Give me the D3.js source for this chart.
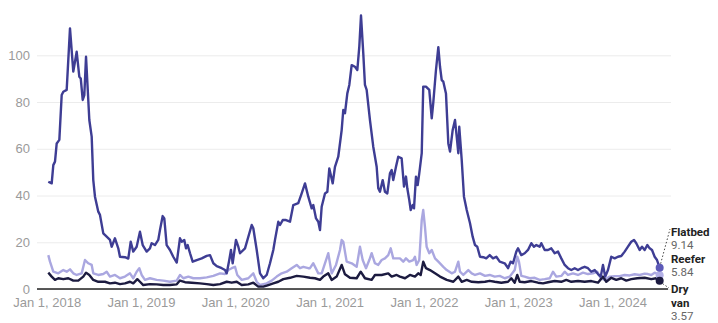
<!DOCTYPE html>
<html>
<head>
<meta charset="utf-8">
<script src="https://cdn.jsdelivr.net/npm/d3@7"></script>
<style>
  html, body { margin: 0; padding: 0; background: #fff; }
  svg { display: block; font-family: Roboto, "Noto Sans", sans-serif; }
  .tick text { fill: #9a9a9a; font-size: 13px; }
</style>
</head>
<body>
<div id="chart"></div>
<script>
// decimal year, value
const flatbed = [[2018.017,45.9],[2018.053,45.2],[2018.070,53],[2018.088,54.5],[2018.106,62.3],[2018.134,63.8],[2018.159,83],[2018.176,84.4],[2018.212,85.2],[2018.247,111.5],[2018.282,93],[2018.318,101.5],[2018.346,90.8],[2018.361,90.1],[2018.382,80.9],[2018.399,83],[2018.417,99.4],[2018.452,72.3],[2018.477,65.2],[2018.494,46.6],[2018.512,39.5],[2018.547,33.1],[2018.565,31.7],[2018.600,23.8],[2018.636,22.4],[2018.671,21],[2018.689,18.1],[2018.724,21.7],[2018.759,17.4],[2018.777,13.8],[2018.830,13.6],[2018.865,13],[2018.891,20.2],[2018.918,16],[2018.954,18.1],[2018.989,24.5],[2019.018,18.8],[2019.060,16],[2019.095,17.4],[2019.113,19.6],[2019.148,18.8],[2019.183,21],[2019.201,25.2],[2019.230,31.2],[2019.247,30.2],[2019.272,18.8],[2019.307,16.7],[2019.342,13.8],[2019.379,11.3],[2019.413,21.7],[2019.432,20.2],[2019.459,21],[2019.477,17.4],[2019.495,18.8],[2019.520,15.3],[2019.548,11.7],[2019.591,12.4],[2019.644,13.1],[2019.697,14.2],[2019.732,14.5],[2019.767,11],[2019.803,9.8],[2019.856,8.9],[2019.891,8.1],[2019.909,6.7],[2019.936,12.4],[2019.954,16.7],[2019.972,11],[2020.007,21],[2020.032,18.1],[2020.050,15.3],[2020.103,17.4],[2020.174,27.4],[2020.191,26],[2020.227,16.7],[2020.262,6.7],[2020.297,4.6],[2020.333,6],[2020.368,11],[2020.403,16.7],[2020.421,21],[2020.456,28.8],[2020.474,27.4],[2020.503,29.5],[2020.538,29.5],[2020.580,28.8],[2020.615,35.9],[2020.668,36.7],[2020.704,40.9],[2020.739,45.2],[2020.774,39.5],[2020.810,34.5],[2020.827,35.9],[2020.856,30.2],[2020.880,28.8],[2020.898,25.2],[2020.916,35.2],[2020.951,40.9],[2020.976,41.6],[2020.997,51.6],[2021.033,45.2],[2021.057,52.3],[2021.092,56.6],[2021.128,68],[2021.145,76.6],[2021.163,75.2],[2021.188,83.7],[2021.209,87.3],[2021.234,95.8],[2021.269,95.1],[2021.294,93.7],[2021.315,103.7],[2021.333,117],[2021.357,100.9],[2021.375,87.3],[2021.393,85.2],[2021.428,72.3],[2021.463,60.9],[2021.499,52.3],[2021.516,43.1],[2021.534,41.6],[2021.563,46.6],[2021.587,41.6],[2021.612,40.9],[2021.640,49.5],[2021.658,50.9],[2021.675,46.6],[2021.704,52.3],[2021.728,56.6],[2021.764,55.9],[2021.789,43.8],[2021.810,48.1],[2021.824,43.1],[2021.845,38.1],[2021.860,33.8],[2021.881,35.9],[2021.895,34.5],[2021.916,48.1],[2021.934,44.5],[2021.951,49.5],[2021.977,58.1],[2021.993,86.6],[2022.022,86.6],[2022.057,85.2],[2022.083,73],[2022.099,79.5],[2022.128,93.7],[2022.153,103.5],[2022.171,95.1],[2022.189,89.4],[2022.206,88.7],[2022.234,83.7],[2022.259,62.3],[2022.277,58.8],[2022.305,68],[2022.330,72.3],[2022.348,65.2],[2022.365,58.1],[2022.375,69.4],[2022.401,55.2],[2022.425,39.5],[2022.454,33.8],[2022.489,28.1],[2022.517,22.4],[2022.542,18.8],[2022.566,18.1],[2022.595,13.8],[2022.630,13.6],[2022.661,13.1],[2022.698,14.5],[2022.733,13.1],[2022.768,13.8],[2022.804,11.7],[2022.857,11],[2022.892,8.9],[2022.920,11.7],[2022.945,11],[2022.980,16],[2022.998,17.4],[2023.033,14.5],[2023.069,15.3],[2023.104,16.7],[2023.139,19.6],[2023.167,18.1],[2023.192,18.8],[2023.228,18.1],[2023.245,19.6],[2023.281,16.7],[2023.316,16.7],[2023.351,17.4],[2023.387,15.3],[2023.422,16],[2023.457,13.1],[2023.493,10.3],[2023.528,8.9],[2023.563,8.1],[2023.599,8.9],[2023.634,8.1],[2023.669,8.9],[2023.705,9.5],[2023.740,8.9],[2023.775,7.4],[2023.811,8.1],[2023.846,6.4],[2023.875,5.3],[2023.899,10.3],[2023.923,5.3],[2023.952,8.1],[2023.987,13.8],[2024.023,13.1],[2024.058,13.8],[2024.093,14.1],[2024.129,16],[2024.164,18.1],[2024.199,20.2],[2024.228,21],[2024.252,19.6],[2024.288,16.7],[2024.313,18.1],[2024.341,16.7],[2024.369,18.8],[2024.394,17.4],[2024.419,16.7],[2024.447,13.8],[2024.472,12.4],[2024.500,9.14]];

const reefer = [[2018.017,14.5],[2018.035,11.7],[2018.070,7.4],[2018.123,6.7],[2018.176,8.1],[2018.212,7.4],[2018.247,8.4],[2018.282,6.7],[2018.318,6],[2018.371,6.7],[2018.406,12.4],[2018.441,11],[2018.477,10.3],[2018.494,6.7],[2018.547,6],[2018.600,6.4],[2018.636,7.4],[2018.671,5.3],[2018.724,6],[2018.777,4.6],[2018.830,5.3],[2018.883,6.7],[2018.918,4.6],[2018.954,7.4],[2018.982,8.9],[2019.007,6],[2019.042,3.9],[2019.095,4.6],[2019.166,3.9],[2019.236,3.6],[2019.307,3.1],[2019.379,3.6],[2019.413,6],[2019.449,4.6],[2019.502,5.3],[2019.555,4.6],[2019.626,4.6],[2019.697,5],[2019.767,5.6],[2019.838,6.7],[2019.891,6.4],[2019.926,8.1],[2019.962,8.9],[2019.997,9.5],[2020.021,6],[2020.068,3.9],[2020.138,4.6],[2020.191,6.7],[2020.227,3.1],[2020.262,1.7],[2020.333,2.4],[2020.386,3.6],[2020.439,5.3],[2020.492,6.7],[2020.545,7.4],[2020.598,8.9],[2020.651,10.3],[2020.686,8.9],[2020.721,9.5],[2020.774,8.9],[2020.792,8.9],[2020.827,11],[2020.880,6.7],[2020.916,6.7],[2020.986,15.3],[2021.022,6.7],[2021.068,10.3],[2021.110,16.7],[2021.128,21],[2021.145,20.2],[2021.181,11.7],[2021.234,11],[2021.287,9.5],[2021.322,18.1],[2021.351,12.4],[2021.386,8.9],[2021.421,12.4],[2021.446,15.3],[2021.481,11],[2021.516,10.3],[2021.552,12.4],[2021.587,13.1],[2021.622,14.5],[2021.648,17.4],[2021.675,13.1],[2021.718,13.1],[2021.746,13.1],[2021.781,11.7],[2021.810,13.1],[2021.845,11.7],[2021.887,12.4],[2021.905,13.8],[2021.923,10.3],[2021.951,12.4],[2021.977,29.5],[2021.993,33.8],[2022.011,26.7],[2022.029,18.1],[2022.057,15.3],[2022.083,16.7],[2022.118,13.1],[2022.153,11.7],[2022.206,9.5],[2022.242,8.1],[2022.295,6.7],[2022.330,7.4],[2022.365,11.7],[2022.383,7.4],[2022.418,6],[2022.471,8.1],[2022.507,6.7],[2022.542,6],[2022.595,6.7],[2022.648,5.6],[2022.698,6],[2022.751,5.3],[2022.804,5.6],[2022.857,4.6],[2022.910,5.3],[2022.963,8.1],[2022.990,13.8],[2023.008,11.7],[2023.033,5.6],[2023.069,5.3],[2023.122,4.6],[2023.175,4.8],[2023.228,3.9],[2023.281,4.2],[2023.334,4.6],[2023.369,7.4],[2023.404,5.3],[2023.457,5.6],[2023.493,7.4],[2023.528,6],[2023.581,6.7],[2023.634,6],[2023.687,7],[2023.740,6.4],[2023.793,6.7],[2023.839,7.4],[2023.875,4.6],[2023.917,3.9],[2023.970,5.3],[2024.023,5.5],[2024.076,5.5],[2024.129,6],[2024.182,5.8],[2024.235,6.3],[2024.288,6],[2024.341,6.6],[2024.376,6.4],[2024.411,6],[2024.447,7],[2024.482,6.4],[2024.500,5.84]];

const dryVan = [[2018.017,7],[2018.053,5.3],[2018.088,3.9],[2018.123,4.6],[2018.176,4.2],[2018.229,4.6],[2018.282,3.6],[2018.335,3.6],[2018.388,5.3],[2018.417,7],[2018.452,6],[2018.494,3.9],[2018.547,3.1],[2018.618,3.1],[2018.671,2.4],[2018.724,2.7],[2018.777,2.1],[2018.830,2.4],[2018.883,3.1],[2018.918,2.4],[2018.961,4.2],[2018.989,3.1],[2019.024,1.7],[2019.095,2.1],[2019.166,2],[2019.236,1.7],[2019.307,1.7],[2019.379,2],[2019.413,3.6],[2019.467,2.9],[2019.538,2.7],[2019.626,2.4],[2019.697,2.1],[2019.767,1.7],[2019.838,2.1],[2019.909,3.1],[2019.962,2.7],[2020.015,3.1],[2020.068,1.7],[2020.138,2],[2020.191,2.7],[2020.244,1],[2020.297,1],[2020.350,1.7],[2020.403,2.4],[2020.456,3.1],[2020.509,4.2],[2020.580,4.8],[2020.651,5.6],[2020.721,5.3],[2020.792,4.8],[2020.845,4.6],[2020.898,3.9],[2020.933,5.3],[2020.986,6.7],[2021.022,3.9],[2021.075,5.3],[2021.128,10.3],[2021.163,6.3],[2021.216,4.8],[2021.287,4.6],[2021.330,7.4],[2021.375,4.6],[2021.446,3.9],[2021.481,6],[2021.552,6],[2021.622,6.7],[2021.658,5.3],[2021.711,6],[2021.746,5.3],[2021.800,4.6],[2021.852,6],[2021.905,5.3],[2021.940,6.7],[2021.966,6],[2021.993,11.7],[2022.022,8.9],[2022.064,8.1],[2022.118,6.7],[2022.171,5.3],[2022.242,3.9],[2022.312,3.1],[2022.365,5.3],[2022.401,3.1],[2022.454,3.9],[2022.507,3.1],[2022.577,2.9],[2022.648,3.1],[2022.698,3.5],[2022.751,3.1],[2022.821,2.7],[2022.892,3.1],[2022.927,4.6],[2022.963,2.7],[2022.990,6],[2023.016,3.1],[2023.069,2.9],[2023.139,3.4],[2023.210,2.7],[2023.263,2.4],[2023.316,2.9],[2023.387,3.4],[2023.457,3.1],[2023.510,3.9],[2023.563,3.1],[2023.634,3.4],[2023.705,3.1],[2023.775,3.4],[2023.846,2.7],[2023.899,5.3],[2023.934,3.1],[2023.987,4.8],[2024.040,3.9],[2024.093,4.6],[2024.146,3.6],[2024.199,4.2],[2024.263,4.6],[2024.341,4.8],[2024.411,4.2],[2024.464,4.6],[2024.500,3.57]];

const seriesNames = ['Reefer', 'Dry van', 'Flatbed'];
const seriesColors = ['#aaa7e0', '#1c1b40', '#3e3d94'];
const dotColors = ['#b3b0e6', '#1c1b40', '#5d5ab8'];
const yTicks = [0, 20, 40, 60, 80, 100];
const xTicks = [2018, 2019, 2020, 2021, 2022, 2023, 2024];

const width = 718, height = 323;
const left = 37, right = 671;

const svg = d3.select('#chart').append('svg')
    .attr('width', width)
    .attr('height', height);

const x = d3.scaleLinear().domain([2018, 2024]).range([46.7, 612.5]);
const y = d3.scaleLinear().domain([0, 100]).range([289, 55.3]);

// gridlines + y labels
const yAxis = svg.append('g')
    .attr('transform', `translate(${left},0)`)
    .call(d3.axisLeft(y).tickValues(yTicks).tickSize(-(right - left)).tickPadding(7));
yAxis.select('.domain').remove();
yAxis.selectAll('.tick line').attr('stroke', '#ececec');
yAxis.selectAll('.tick text').attr('fill', '#9a9a9a');

// x labels
const xAxis = svg.append('g')
    .attr('transform', `translate(0,${y(0)})`)
    .call(d3.axisBottom(x).tickValues(xTicks).tickSize(0).tickPadding(9)
        .tickFormat(d => `Jan 1, ${d}`));
xAxis.select('.domain').remove();

// baseline
svg.append('line')
    .attr('x1', left).attr('x2', 668)
    .attr('y1', y(0)).attr('y2', y(0))
    .attr('stroke', '#222').attr('stroke-width', 1.5);

const line = d3.line().x(d => x(d[0])).y(d => y(d[1]));
const allSeries = [reefer, dryVan, flatbed];

svg.append('g').selectAll('path')
    .data(allSeries)
    .join('path')
    .attr('d', line)
    .attr('fill', 'none')
    .attr('stroke', (d, i) => seriesColors[i])
    .attr('stroke-width', 2.4)
    .attr('stroke-linejoin', 'round');

const ends = allSeries.map(s => s[s.length - 1]);

svg.append('g').selectAll('circle')
    .data(ends)
    .join('circle')
    .attr('cx', d => x(d[0]))
    .attr('cy', d => y(d[1]))
    .attr('r', 4)
    .attr('fill', (d, i) => dotColors[i]);

// leader lines
const fEnd = ends[2], dEnd = ends[1];
svg.append('line')
    .attr('x1', x(fEnd[0]) + 1).attr('y1', y(fEnd[1]) - 4)
    .attr('x2', 670).attr('y2', 229)
    .attr('stroke', '#444').attr('stroke-dasharray', '1.5,2').attr('stroke-width', 1);
svg.append('line')
    .attr('x1', x(dEnd[0]) + 3).attr('y1', y(dEnd[1]) + 3)
    .attr('x2', 669).attr('y2', 288)
    .attr('stroke', '#444').attr('stroke-dasharray', '1.5,2').attr('stroke-width', 1);

// end labels
const labelRows = [
    { t: 'Flatbed', y: 231.5, bold: true },
    { t: fEnd[1].toFixed(2), y: 245 },
    { t: 'Reefer', y: 258.5, bold: true },
    { t: ends[0][1].toFixed(2), y: 272 },
    { t: 'Dry', y: 289, bold: true },
    { t: 'van', y: 302.5, bold: true },
    { t: dEnd[1].toFixed(2), y: 316 }
];
svg.append('g').selectAll('text')
    .data(labelRows)
    .join('text')
    .attr('x', 671)
    .attr('y', d => d.y)
    .attr('dy', '0.35em')
    .attr('font-size', 11.5)
    .attr('font-weight', d => d.bold ? 700 : 400)
    .attr('fill', d => d.bold ? '#222' : '#666')
    .text(d => d.t);
</script>
</body>
</html>
